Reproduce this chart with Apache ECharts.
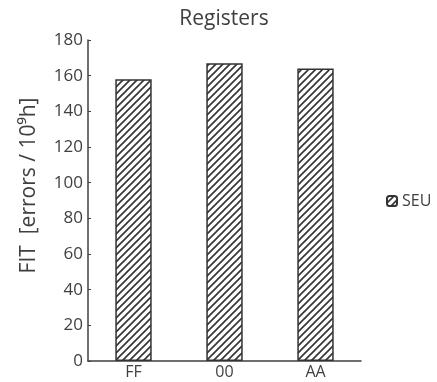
<!DOCTYPE html>
<html>
<head>
<meta charset="utf-8">
<script src="https://cdn.jsdelivr.net/npm/echarts@6/dist/echarts.min.js"></script>
<style>
  html, body { margin: 0; padding: 0; background: #fff; }
  #chart { width: 437px; height: 382px; }
</style>
</head>
<body>
<div id="chart"></div>
<script>
const categories = ['FF', '00', 'AA'];
const seuValues = [158, 167, 164];
const yTicks = [0, 20, 40, 60, 80, 100, 120, 140, 160, 180];

// hatch pattern, "/" diagonals
function makeHatch() {
  const s = 7;
  const c = document.createElement('canvas');
  c.width = s; c.height = s;
  const ctx = c.getContext('2d');
  ctx.fillStyle = '#fff';
  ctx.fillRect(0, 0, s, s);
  ctx.strokeStyle = '#333';
  ctx.lineWidth = 1.6;
  ctx.beginPath();
  ctx.moveTo(-1, s + 1); ctx.lineTo(s + 1, -1);
  ctx.moveTo(-2, 2); ctx.lineTo(2, -2);
  ctx.moveTo(s - 2, s + 2); ctx.lineTo(s + 2, s - 2);
  ctx.stroke();
  return c;
}

const chart = echarts.init(document.getElementById('chart'));
const textColor = '#404040';
const font = 'Open Sans';

chart.setOption({
  animation: false,
  title: {
    text: 'Registers',
    left: 219, top: 4, textAlign: 'center',
    textStyle: { fontFamily: font, fontSize: 21, fontWeight: 'normal', color: textColor }
  },
  legend: {
    data: ['SEU'],
    orient: 'vertical',
    left: 381, top: 188,
    itemWidth: 10, itemHeight: 10, itemGap: 5,
    textStyle: { fontFamily: font, fontSize: 16, color: textColor }
  },
  grid: { left: 88, right: 76, top: 40, bottom: 21 },
  xAxis: {
    type: 'category',
    data: categories,
    axisLine: { lineStyle: { color: '#404040', width: 1.5 } },
    axisTick: { show: false },
    axisLabel: { fontFamily: font, fontSize: 16, color: textColor, margin: 3 }
  },
  yAxis: {
    type: 'value',
    min: yTicks[0], max: yTicks[yTicks.length - 1], interval: 20,
    name: 'FIT  [errors / 10\u2079h]',
    nameLocation: 'middle', nameGap: 48, nameRotate: 90,
    nameTextStyle: { fontFamily: font, fontSize: 21, color: textColor, padding: [0, 0, 0, 30] },
    axisLine: { show: true, lineStyle: { color: '#404040', width: 1.5 } },
    axisTick: { show: true, inside: true, length: 3, lineStyle: { color: '#404040' } },
    splitLine: { show: false },
    axisLabel: { fontFamily: font, fontSize: 17, color: textColor, margin: 5 }
  },
  series: [{
    name: 'SEU',
    type: 'bar',
    data: seuValues,
    barWidth: '40%',
    itemStyle: {
      color: { image: makeHatch(), repeat: 'repeat' },
      borderColor: '#333',
      borderWidth: 1.5
    }
  }]
});
</script>
</body>
</html>
